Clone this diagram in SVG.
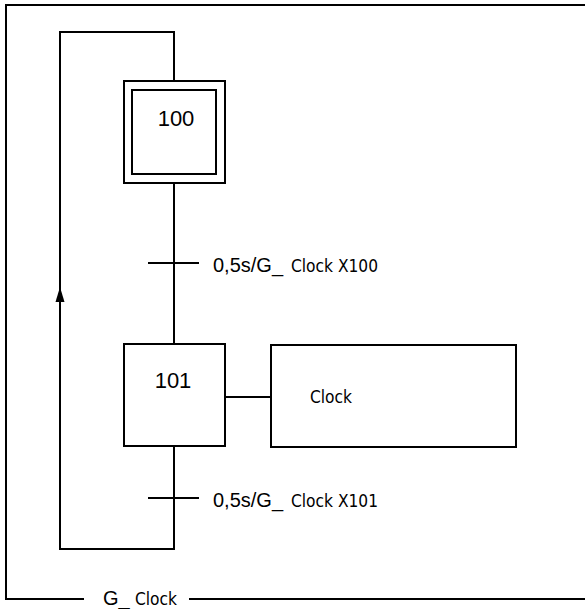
<svg xmlns="http://www.w3.org/2000/svg" width="585" height="609" viewBox="0 0 585 609">
<defs>
<style>
.ln{fill:none;stroke:#000;stroke-width:2}
.bx{fill:#fff;stroke:#000;stroke-width:2}
.a{font-family:"Liberation Sans",Arial,sans-serif;fill:#000}
.c{font-family:"DejaVu Sans Condensed","Liberation Sans Narrow",sans-serif;font-stretch:condensed;fill:#000}
</style>
<marker id="arr" markerWidth="10" markerHeight="16" refX="5" refY="0" orient="auto-start-reverse" markerUnits="userSpaceOnUse" viewBox="0 0 10 16">
<path d="M5,0 L10,16 L0,16 Z" fill="#000"/>
</marker>
</defs>
<rect width="585" height="609" fill="#fff"/>
<g id="frame">
<polyline class="ln" points="585,5 6,5 6,599 84,599"/>
<line class="ln" x1="189" y1="599" x2="585" y2="599"/>
<text class="a" x="103" y="605" font-size="20">G_<tspan class="c" x="135" font-size="17" textLength="42" lengthAdjust="spacingAndGlyphs">Clock</tspan></text>
</g>
<g id="connectors">
<polyline class="ln" points="174,81 174,32 60,32 60,549 174,549 174,446"/>
<path d="M60,287 L64.5,302 L55.5,302 Z" fill="#000"/>
<line class="ln" x1="174" y1="183" x2="174" y2="344"/>
<line class="ln" x1="225" y1="397" x2="271" y2="397"/>
</g>
<g id="step100">
<rect class="bx" x="124" y="81" width="101" height="102"/>
<rect class="bx" x="132" y="90" width="84" height="84"/>
<text class="a" x="176" y="126" font-size="22" text-anchor="middle">100</text>
</g>
<g id="transition1">
<line class="ln" x1="148" y1="263" x2="199" y2="263"/>
<text class="a" x="213" y="272" font-size="20">0,5s/G_<tspan class="c" x="291" font-size="17" textLength="87" lengthAdjust="spacingAndGlyphs">Clock X100</tspan></text>
</g>
<g id="step101">
<rect class="bx" x="124" y="344" width="101" height="102"/>
<text class="a" x="173" y="388" font-size="22" text-anchor="middle">101</text>
</g>
<g id="action">
<rect class="bx" x="271" y="345" width="245" height="102"/>
<text class="c" x="310" y="403" font-size="17" textLength="42" lengthAdjust="spacingAndGlyphs">Clock</text>
</g>
<g id="transition2">
<line class="ln" x1="148" y1="498" x2="199" y2="498"/>
<text class="a" x="213" y="507" font-size="20">0,5s/G_<tspan class="c" x="291" font-size="17" textLength="87" lengthAdjust="spacingAndGlyphs">Clock X101</tspan></text>
</g>
</svg>
